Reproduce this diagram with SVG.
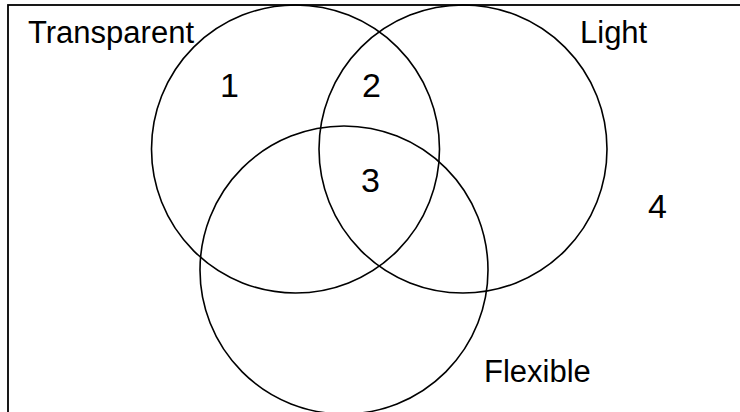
<svg xmlns="http://www.w3.org/2000/svg" width="740" height="412" viewBox="0 0 740 412">
<style>
.c{fill:none;stroke:#000;stroke-width:1.6}
.t{font-family:"Liberation Sans",Arial,sans-serif;font-size:31px;fill:#000}
.n{font-family:"Liberation Sans",Arial,sans-serif;font-size:34px;fill:#000}
</style>
<rect x="0" y="0" width="740" height="412" fill="#fff"/>
<rect id="frame" x="8" y="5" width="760" height="440" fill="none" stroke="#000" stroke-width="1.8"/>
<g id="transparent"><circle class="c" cx="295.5" cy="149" r="144"/><text class="t" x="28" y="43">Transparent</text></g>
<g id="light"><circle class="c" cx="463" cy="149" r="144"/><text class="t" x="580" y="43">Light</text></g>
<g id="flexible"><circle class="c" cx="344" cy="270" r="144"/><text class="t" x="484" y="382">Flexible</text></g>
<g id="regions">
<text class="n" x="220" y="97">1</text>
<text class="n" x="362" y="97">2</text>
<text class="n" x="361" y="192">3</text>
<text class="n" x="648" y="218">4</text>
</g>
<g id="connectors"></g>
</svg>
